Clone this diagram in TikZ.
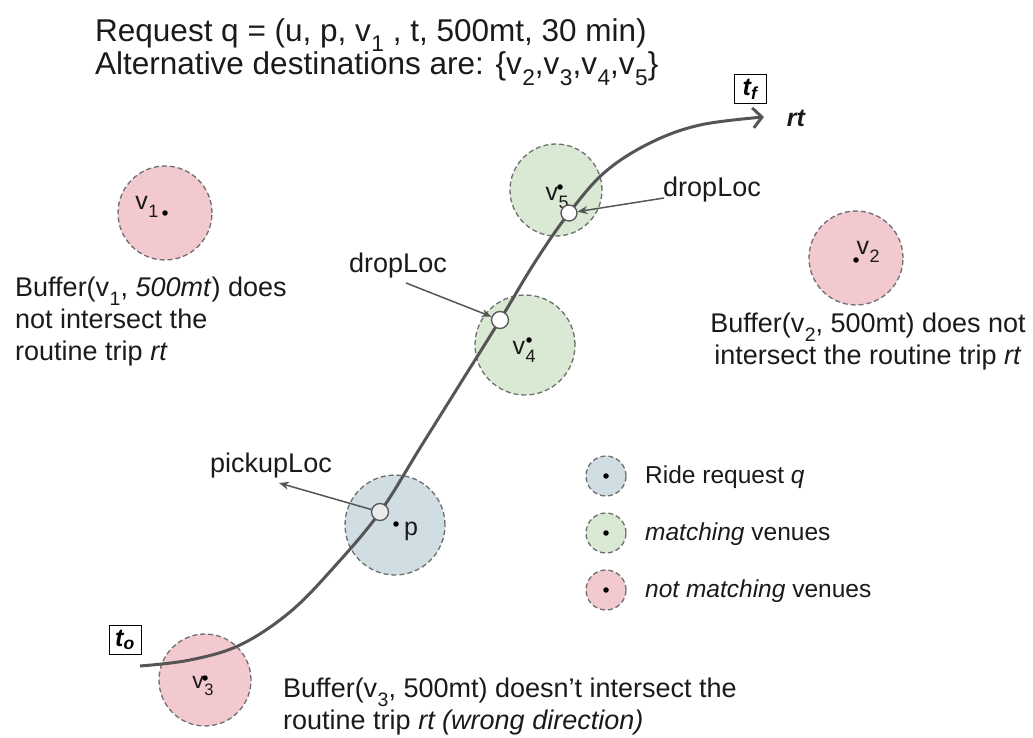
\documentclass[tikz,border=0pt]{standalone}
\usepackage{fontspec}
\setmainfont{Liberation Sans}
\usetikzlibrary{arrows.meta}
\definecolor{pinkc}{HTML}{F2C9CE}
\definecolor{greenc}{HTML}{D9E9D3}
\definecolor{bluec}{HTML}{D0DDE3}
\definecolor{linec}{HTML}{555555}
\definecolor{txt}{HTML}{1A1A1A}
\newcommand\vsub[1]{v\kern0.5pt\raisebox{-0.32em}{\scalebox{0.72}{#1}}}
\tikzset{
  buf/.style={circle, draw=linec!85, dash pattern=on 5pt off 3pt, line width=1.3pt, inner sep=0pt},
  dotv/.style={circle, fill=black, minimum size=5.5pt, inner sep=0pt},
  loc/.style={circle, draw=linec, line width=1.3pt, fill=white, minimum size=17pt, inner sep=0pt},
  route/.style={draw=linec, line width=3pt},
  pointer/.style={draw=linec, line width=1.5pt, -{Stealth[length=10pt,width=8pt]}},
  tbox/.style={draw=black, line width=1pt, minimum width=32pt, minimum height=29pt, inner sep=1pt, font=\fontsize{25}{27}\selectfont\bfseries\itshape},
  lab/.style={font=\fontsize{27}{32}\selectfont, text=txt, inner sep=0pt},
  leg/.style={font=\fontsize{24.5}{29}\selectfont, text=txt, inner sep=0pt, anchor=west},
}
\begin{document}
\begin{tikzpicture}[x=1pt,y=-1pt]
\useasboundingbox (0,0) rectangle (1033,738);
% title
\node[lab, anchor=north west, align=left, font=\fontsize{31.5}{28}\selectfont] (title) at (95,18)
  {Request q = (u, p, \vsub{1} , t, 500mt, 30 min)\\Alternative destinations are: \{\vsub{2},\vsub{3},\vsub{4},\vsub{5}\}};
% buffers
\node[buf, fill=pinkc, minimum size=94pt] (b1) at (165,213) {};
\node[buf, fill=pinkc, minimum size=94pt] (b2) at (856,258) {};
\node[buf, fill=greenc, minimum size=92pt] (b5) at (556,190) {};
\node[buf, fill=greenc, minimum size=100pt] (b4) at (525,345) {};
\node[buf, fill=bluec, minimum size=100pt] (bp) at (395,525) {};
\node[buf, fill=pinkc, minimum size=92pt] (b3) at (205,680) {};
% venue dots
\node[dotv] (d1) at (165,213) {};
\node[dotv] (d2) at (856,260) {};
\node[dotv] (d5) at (560,187) {};
\node[dotv] (d4) at (529,340) {};
\node[dotv] (dp) at (396,524) {};
\node[dotv] (d3) at (205,678) {};
\node[lab, font=\fontsize{25}{28}\selectfont] (l1) at (147,207) {\vsub{1}};
\node[lab, font=\fontsize{25}{28}\selectfont] (l2) at (868,252) {\vsub{2}};
\node[lab, font=\fontsize{25}{28}\selectfont] (l5) at (557,198) {\vsub{5}};
\node[lab, font=\fontsize{25}{28}\selectfont] (l4) at (524,352) {\vsub{4}};
\node[lab, font=\fontsize{25}{28}\selectfont] (lp) at (411,531) {p};
\node[lab, font=\fontsize{23}{26}\selectfont] (l3) at (203,686) {\vsub{3}};
% route
\coordinate (to) at (140,666);
\coordinate (tf) at (764,117);
\draw[route, -{Straight Barb[length=9pt,width=20pt,line width=3pt]}] plot[smooth, tension=0.6] coordinates
  {(to) (190,660) (240,645) (290,612) (335,566) (380,512) (420,448) (460,384) (500,320) (535,262) (569,213) (605,172) (650,143) (700,125) (tf)};
% pickup / drop locations
\node[loc, fill=black!8] (pick) at (380,512) {};
\node[loc] (drop4) at (500,320) {};
\node[loc, minimum size=16pt] (drop5) at (569,213) {};
% pointers
\node[lab] (tpick) at (271,466) {pickupLoc};
\coordinate (pickend) at (279,483);
\draw[pointer] (pick) -- (pickend);
\node[lab] (tdrop4) at (398,266) {dropLoc};
\draw[pointer] (406,283) -- (drop4);
\node[lab] (tdrop5) at (712,190) {dropLoc};
\draw[pointer] (664,198) -- (drop5);
% time boxes
\node[tbox] (tfbox) at (750,89) {t\textsubscript{f}};
\node[lab, font=\fontsize{25}{28}\selectfont\bfseries\itshape] (rt) at (796,118) {rt};
\node[tbox] (tobox) at (125,640) {t\textsubscript{o}};
% explanations
\node[lab, anchor=north west, align=left] (e1) at (15,277)
  {Buffer(\vsub{1}, \textit{500mt}) does\\not intersect the\\routine trip \textit{rt}};
\node[lab, anchor=north, align=center] (e2) at (868,313)
  {Buffer(\vsub{2}, 500mt) does not\\intersect the routine trip \textit{rt}};
\node[lab, anchor=north west, align=left] (e3) at (283,678)
  {Buffer(\vsub{3}, 500mt) doesn’t intersect the\\routine trip \textit{rt (wrong direction)}};
% legend
\node[buf, fill=bluec, minimum size=40pt] (gq) at (606,476) {};
\node[dotv] at (gq) {};
\node[buf, fill=greenc, minimum size=40pt] (gm) at (606,533) {};
\node[dotv] at (gm) {};
\node[buf, fill=pinkc, minimum size=40pt] (gn) at (606,590) {};
\node[dotv] at (gn) {};
\node[leg] (tq) at (645,477) {Ride request \textit{q}};
\node[leg] (tm) at (645,534) {\textit{matching} venues};
\node[leg] (tn) at (645,591) {\textit{not matching} venues};
\end{tikzpicture}
\end{document}
